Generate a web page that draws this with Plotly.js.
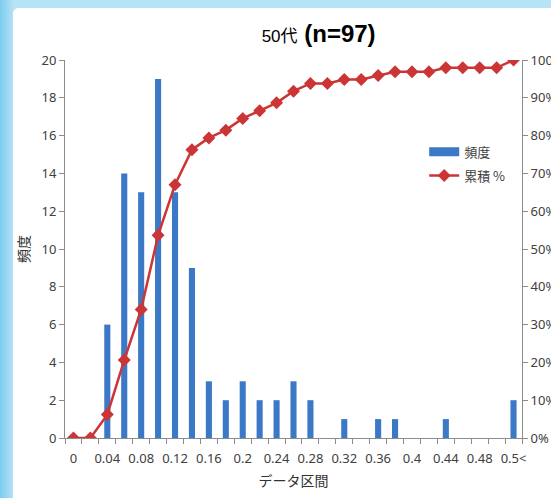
<!DOCTYPE html>
<html>
<head>
<meta charset="utf-8">
<script src="https://cdn.plot.ly/plotly-3.0.1.min.js"></script>
<style>
  html, body { margin: 0; padding: 0; }
  body {
    width: 551px; height: 498px; overflow: hidden; position: relative;
    background: linear-gradient(90deg, #7ccdee 0px, #a6dcf3 10px, #b6e4f6 14px, #b6e4f6 100%);
  }
  #chart {
    position: absolute; left: 13px; top: 8px; width: 538px; height: 490px;
    background: #ffffff; border-top-left-radius: 6px; overflow: hidden;
  }
</style>
</head>
<body>
<div id="chart"></div>
<script>
// Bins of the distribution (upper edges), last one is the overflow bin
const categories = ['0','0.02','0.04','0.06','0.08','0.1','0.12','0.14','0.16','0.18',
                    '0.2','0.22','0.24','0.26','0.28','0.3','0.32','0.34','0.36','0.38',
                    '0.4','0.42','0.44','0.46','0.48','0.5','0.5<'];
// Frequency in each bin (total 97)
const counts = [0,0,6,14,13,19,13,9,3,2,3,2,2,3,2,0,1,0,1,1,0,0,1,0,0,0,2];
// Tick labels: every second bin is labelled
const tickLabels = categories.map((c, i) => (i % 2 === 0 ? c : ''));

const total = counts.reduce((a, b) => a + b, 0);
let running = 0;
const cumulative = counts.map(v => { running += v; return running / total; });

const font = "'Noto Sans', 'Noto Sans CJK JP', sans-serif";
const jpFont = "'Noto Sans CJK JP', sans-serif";
const barColor = '#3b78c6';
const lineColor = '#cc3536';

const traces = [
  {
    type: 'bar', name: '頻度', x: categories, y: counts,
    marker: { color: barColor }, yaxis: 'y', showlegend: false
  },
  // legend entry for the bars, drawn as a wide swatch
  {
    type: 'scatter', mode: 'lines', name: '頻度', x: [null], y: [null],
    line: { color: barColor, width: 9 }, yaxis: 'y', showlegend: true, legendgroup: 'freq'
  },
  {
    type: 'scatter', mode: 'lines+markers', name: '累積 %', x: categories, y: cumulative,
    yaxis: 'y2', line: { color: lineColor, width: 2.5 }, legendgroup: 'cum',
    marker: { symbol: 'diamond', size: 10, color: lineColor }
  }
];

const layout = {
  width: 538, height: 490,
  margin: { l: 52, r: 29, t: 52, b: 60 },
  paper_bgcolor: '#ffffff', plot_bgcolor: '#ffffff',
  font: { family: font, size: 13, color: '#404040' },
  bargap: 0.64,
  showlegend: true,
  legend: {
    x: 0.786, y: 0.797, xanchor: 'left', yanchor: 'top',
    bgcolor: 'rgba(0,0,0,0)', font: { family: jpFont, size: 13, color: '#404040' },
    itemwidth: 30, traceorder: 'grouped', tracegroupgap: 4
  },
  title: {
    text: '<span style="font-size:17px;font-weight:normal">50代</span> <b>(n=97)</b>',
    font: { family: "'Liberation Sans', 'Noto Sans CJK JP', sans-serif", size: 24, color: '#000000' },
    x: 0.555, xanchor: 'center', xref: 'paper', y: 0.948, yanchor: 'middle'
  },
  xaxis: {
    type: 'category', range: [-0.5, categories.length - 0.5],
    tickvals: categories, ticktext: tickLabels,
    tickson: 'boundaries', ticks: 'outside', ticklen: 5, tickcolor: '#8c8c8c',
    ticklabelstandoff: 8,
    showline: true, linecolor: '#8c8c8c', linewidth: 1, showgrid: false, zeroline: false,
    tickangle: 0, tickfont: { size: 13, color: '#404040' },
    title: { text: 'データ区間', font: { family: jpFont, size: 14, color: '#333333' }, standoff: 10 }
  },
  yaxis: {
    range: [0, 20], dtick: 2, ticks: 'outside', ticklen: 5, tickcolor: '#8c8c8c',
    showline: true, linecolor: '#8c8c8c', showgrid: false, zeroline: false,
    tickfont: { size: 13, color: '#404040' },
    title: { text: '頻度', font: { family: jpFont, size: 14, color: '#333333' }, standoff: 8 }
  },
  yaxis2: {
    overlaying: 'y', side: 'right', range: [0, 1], dtick: 0.1, tickformat: '.0%',
    ticks: 'outside', ticklen: 5, tickcolor: '#8c8c8c',
    showline: true, linecolor: '#8c8c8c', showgrid: false, zeroline: false,
    tickfont: { size: 13, color: '#404040' }
  }
};

Plotly.newPlot('chart', traces, layout, { displayModeBar: false, staticPlot: true });
</script>
</body>
</html>
